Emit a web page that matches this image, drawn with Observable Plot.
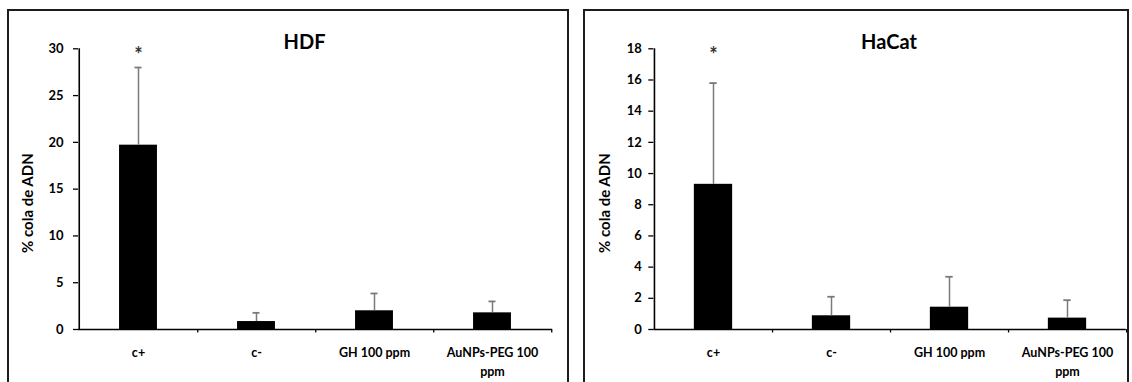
<!DOCTYPE html>
<html><head><meta charset="utf-8">
<script src="https://cdn.jsdelivr.net/npm/d3@7"></script>
<script src="https://cdn.jsdelivr.net/npm/@observablehq/plot@0.6"></script>
<style>
body{margin:0;background:#fff;width:1132px;height:382px;overflow:hidden;position:relative;font-family:Lato,"Open Sans",sans-serif;}
.panel{position:absolute;top:9px;height:400px;border:2px solid #1c1c1c;box-sizing:border-box;z-index:2;pointer-events:none;}
.chart{position:absolute;top:0;}
</style></head><body>
<div id="c1" class="chart" style="left:0"></div>
<div id="c2" class="chart" style="left:566px"></div>
<div class="panel" style="left:7px;width:562px"></div>
<div class="panel" style="left:583px;width:546px"></div>
<script>
const categories = ["c+", "c-", "GH 100 ppm", "AuNPs-PEG 100 ppm"];
const xLabels = ["c+", "c-", "GH 100 ppm", "AuNPs-PEG 100\nppm"];
const significant = [true, false, false, false];
const yLabel = "% cola de ADN";

const hdfTitle = "HDF";
const hdfMean = [19.7, 0.85, 2.0, 1.78];
const hdfErr = [8.3, 0.93, 1.85, 1.22];
const hdfTicks = [0, 5, 10, 15, 20, 25, 30];

const hacatTitle = "HaCat";
const hacatMean = [9.31, 0.88, 1.43, 0.73];
const hacatErr = [6.49, 1.22, 1.95, 1.15];
const hacatTicks = [0, 2, 4, 6, 8, 10, 12, 14, 16, 18];

function makeChart({title, means, errs, ticks, marginLeft, marginRight, tickPadding, titleDx, labelDx}) {
  const W = 566, H = 382;
  const data = categories.map((c, i) => ({cat: c, mean: means[i], err: errs[i], sig: significant[i]}));
  const yMax = ticks[ticks.length - 1];
  const bw = (W - marginLeft - marginRight) / categories.length;
  const inset = (bw - 38.4) / 2;
  const capInset = (bw - 7.5) / 2;
  return Plot.plot({
    width: W, height: H,
    marginLeft, marginRight, marginTop: 48.3, marginBottom: 53,
    style: {background: "transparent", fontFamily: "Lato, 'Open Sans', sans-serif", fontWeight: "bold", color: "#000", overflow: "visible"},
    x: {domain: categories, padding: 0, axis: null},
    y: {domain: [0, yMax], axis: null},
    marks: [
      Plot.barY(data, {x: "cat", y: "mean", fill: "#000", insetLeft: inset, insetRight: inset}),
      Plot.ruleX(data, {x: "cat", y1: "mean", y2: d => d.mean + d.err, stroke: "#7a7a7a", strokeWidth: 1.5}),
      Plot.tickY(data, {x: "cat", y: d => d.mean + d.err, stroke: "#7a7a7a", strokeWidth: 1.8, inset: capInset}),
      Plot.ruleY([0], {stroke: "#000", strokeWidth: 1.6}),
      Plot.ruleX([categories[0]], {x: d => d, dx: -bw / 2, y1: 0, y2: yMax, stroke: "#000", strokeWidth: 1.6}),
      Plot.ruleX(categories, {x: d => d, dx: bw / 2, y1: 0, y2: 0, insetBottom: -3.5, stroke: "#000", strokeWidth: 1.3}),
      Plot.axisY({ticks, tickSize: 5, tickPadding, fontSize: 13, label: null, strokeWidth: 1.3}),
      Plot.text(categories, {x: d => d, text: (d, i) => xLabels[i], frameAnchor: "bottom", lineAnchor: "top", dy: 14.5, lineHeight: 1.5, fontSize: 12.5}),
      Plot.text([title], {text: d => d, frameAnchor: "top", dx: titleDx, dy: -6, lineAnchor: "middle", fontSize: 20}),
      Plot.text([yLabel], {text: d => d, frameAnchor: "left", rotate: -90, textAnchor: "middle", lineAnchor: "middle", dx: labelDx, dy: 14, fontSize: 15}),
      Plot.text(data.filter(d => d.sig), {x: "cat", text: () => "*", frameAnchor: "top", lineAnchor: "middle", dy: 6.5, fontSize: 20, fill: "#333"})
    ]
  });
}

document.getElementById("c1").append(makeChart({
  title: hdfTitle, means: hdfMean, errs: hdfErr, ticks: hdfTicks,
  marginLeft: 78, marginRight: 14, tickPadding: 10, titleDx: -11, labelDx: -50
}));
document.getElementById("c2").append(makeChart({
  title: hacatTitle, means: hacatMean, errs: hacatErr, ticks: hacatTicks,
  marginLeft: 87.3, marginRight: 6.3, tickPadding: 7, titleDx: -1, labelDx: -49
}));
</script>
</body></html>
